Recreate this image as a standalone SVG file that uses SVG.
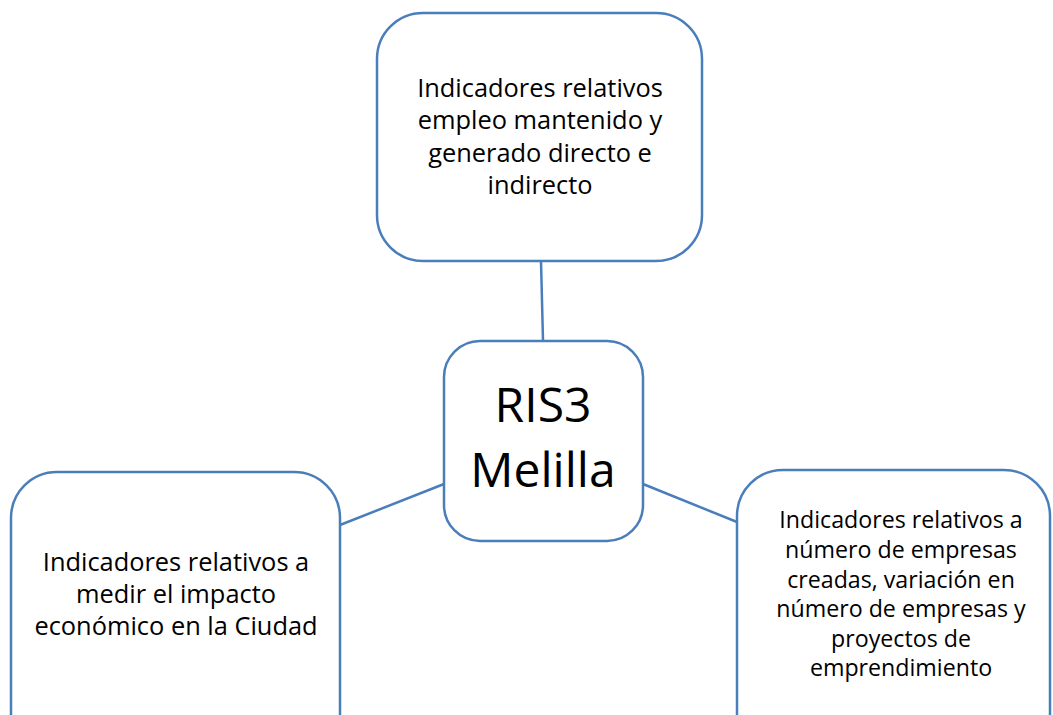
<svg xmlns="http://www.w3.org/2000/svg" width="1053" height="715" viewBox="0 0 1053 715">
<style>
.box{fill:#fff;stroke:#4A7EBB;stroke-width:2.5}
.ln{stroke:#4A7EBB;stroke-width:2.5;fill:none}
text{font-family:"Open Sans","Noto Sans",sans-serif;fill:#000;text-anchor:middle}
.t24{font-size:25.4px}
.t22{font-size:23.2px}
.big{font-size:48px}
</style>
<rect width="1053" height="715" fill="#fff"/>
<g id="connectors">
<line class="ln" x1="541" y1="261" x2="543" y2="341"/>
<line class="ln" x1="340" y1="525" x2="444" y2="484"/>
<line class="ln" x1="643" y1="484" x2="737" y2="522"/>
</g>
<g id="top">
<rect class="box" x="377" y="13" width="325" height="248" rx="46"/>
<text class="t24" x="540"><tspan x="540" y="97">Indicadores relativos</tspan><tspan x="540" y="129">empleo mantenido y</tspan><tspan x="540" y="162">generado directo e</tspan><tspan x="540" y="194">indirecto</tspan></text>
</g>
<g id="center">
<rect class="box" x="444" y="341" width="199" height="200" rx="36"/>
<text class="big" x="543"><tspan x="543" y="422">RIS3</tspan><tspan x="543" y="487">Melilla</tspan></text>
</g>
<g id="left">
<rect class="box" x="11" y="472" width="329" height="300" rx="46"/>
<text class="t24" x="176"><tspan x="176" y="571">Indicadores relativos a</tspan><tspan x="176" y="603">medir el impacto</tspan><tspan x="176" y="635">económico en la Ciudad</tspan></text>
</g>
<g id="right">
<rect class="box" x="737" y="470" width="313" height="300" rx="46"/>
<text class="t22" x="901"><tspan x="901" y="528">Indicadores relativos a</tspan><tspan x="901" y="558">número de empresas</tspan><tspan x="901" y="588">creadas, variación en</tspan><tspan x="901" y="617">número de empresas y</tspan><tspan x="901" y="647">proyectos de</tspan><tspan x="901" y="676">emprendimiento</tspan></text>
</g>
</svg>
